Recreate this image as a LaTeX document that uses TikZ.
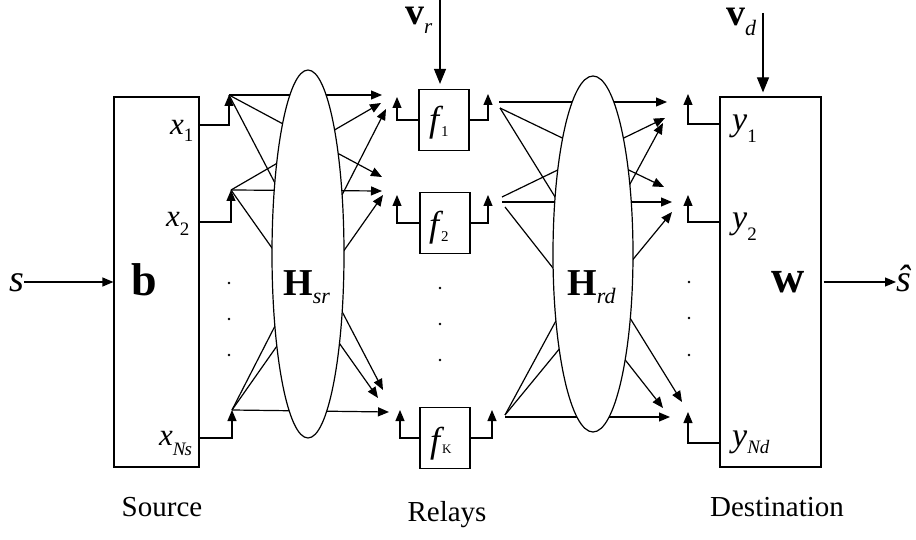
\documentclass[tikz,border=0pt]{standalone}
\usepackage{fontspec}
\setmainfont{Liberation Serif}
\usetikzlibrary{arrows.meta,shapes.geometric}
\newcommand\myfs[1]{\fontsize{#1}{#1}\selectfont}
\begin{document}
\begin{tikzpicture}[x=1pt,y=-1pt,
  arr/.style={line width=1.2pt,-{Triangle[length=11pt,width=9pt]}},
  bigarr/.style={line width=1.2pt,-{Triangle[length=15pt,width=12pt]}},
  blk/.style={draw,line width=1.2pt,rectangle,inner sep=0pt},
  relaybox/.style={blk,minimum width=50pt,minimum height=61pt},
  chan/.style={draw,line width=1.2pt,ellipse,fill=white,inner sep=0pt},
  dotn/.style={circle,fill,inner sep=0pt,minimum size=2.8pt},
  txt/.style={inner sep=0pt,anchor=base west},
  captxt/.style={inner sep=0pt,anchor=base,font=\myfs{29}}
]
\useasboundingbox (0,0) rectangle (916,540);

% boxes
\node[blk,minimum width=85pt,minimum height=370pt] (src) at (156.5,282) {};
\node[blk,minimum width=101pt,minimum height=370pt] (dst) at (770.5,282) {};
\node[relaybox] (rel1) at (444,120) {};
\node[relaybox] (rel2) at (445,223) {};
\node[relaybox] (relK) at (445,438) {};

% level coordinates
\coordinate (ly1) at (0,125);
\coordinate (ly2) at (0,222);
\coordinate (ly3) at (0,438);
\coordinate (ld1) at (0,124);
\coordinate (ld2) at (0,222);
\coordinate (ld3) at (0,443);

% source output tips
\coordinate (st1) at (229,95);
\coordinate (st2) at (231,190);
\coordinate (st3) at (232,410);
% relay input tips
\coordinate (r1in) at (397,97);
\coordinate (r2in) at (397,195);
\coordinate (rKin) at (400,410);
% relay output tips
\coordinate (r1out) at (488,94);
\coordinate (r2out) at (488,195);
\coordinate (rKout) at (492,410);
% destination input tips
\coordinate (d1in) at (688,94);
\coordinate (d2in) at (688,195);
\coordinate (dKin) at (688,412);

% fan targets at relays
\coordinate (R1a) at (382,95);  \coordinate (R1b) at (381,103); \coordinate (R1c) at (386,109);
\coordinate (R2a) at (382,177); \coordinate (R2b) at (382,191); \coordinate (R2c) at (383,195);
\coordinate (RKa) at (383,390); \coordinate (RKb) at (378,398); \coordinate (RKc) at (389,412);
% fan starts at relays
\coordinate (o1h) at (499,102); \coordinate (o1d) at (500,108);
\coordinate (o2u) at (502,197); \coordinate (o2h) at (502,202); \coordinate (o2d) at (505,207);
\coordinate (oK) at (505,415);  \coordinate (oKh) at (505,417);
% fan targets at destination
\coordinate (D1a) at (667,102); \coordinate (D1b) at (665,118); \coordinate (D1c) at (663,123);
\coordinate (D2a) at (664,187); \coordinate (D2b) at (672,202); \coordinate (D2c) at (672,212);
\coordinate (DKa) at (682,402); \coordinate (DKb) at (663,408); \coordinate (DKc) at (670,417);

% source outputs
\draw[arr] (src.east |- ly1) -| (st1);
\draw[arr] (src.east |- ly2) -| (st2);
\draw[arr] (src.east |- ly3) -| (st3);
% relay inputs/outputs
\draw[arr] (rel1.west) -| (r1in);
\draw[arr] (rel2.west) -| (r2in);
\draw[arr] (relK.west) -| (rKin);
\draw[arr] (rel1.east) -| (r1out);
\draw[arr] (rel2.east) -| (r2out);
\draw[arr] (relK.east) -| (rKout);
% destination inputs
\draw[arr] (dst.west |- ld1) -| (d1in);
\draw[arr] (dst.west |- ld2) -| (d2in);
\draw[arr] (dst.west |- ld3) -| (dKin);

% Hsr fan
\draw[arr] (st1) -- (R1a);
\draw[arr] (st1) -- (R2a);
\draw[arr] (st1) -- (RKa);
\draw[arr] (st2) -- (R1b);
\draw[arr] (st2) -- (R2b);
\draw[arr] (st2) -- (RKb);
\draw[arr] (st3) -- (R1c);
\draw[arr] (st3) -- (R2c);
\draw[arr] (st3) -- (RKc);
% Hrd fan
\draw[arr] (o1h) -- (D1a);
\draw[arr] (o1d) -- (D2a);
\draw[arr] (o1d) -- (DKa);
\draw[arr] (o2u) -- (D1b);
\draw[arr] (o2h) -- (D2b);
\draw[arr] (o2d) -- (DKb);
\draw[arr] (oK) -- (D1c);
\draw[arr] (oK) -- (D2c);
\draw[arr] (oKh) -- (DKc);

% channel ellipses
\node[chan,minimum width=72pt,minimum height=368pt] (hsr) at (308,254) {};
\node[chan,minimum width=80pt,minimum height=356pt] (hrd) at (593,254) {};
\node[txt] (hsrl) at (283,295) {\myfs{38}\bfseries H\raisebox{-8pt}{\myfs{22}\mdseries\itshape sr}};
\node[txt] (hrdl) at (567,295) {\myfs{38}\bfseries H\raisebox{-8pt}{\myfs{22}\mdseries\itshape rd}};

% box labels
\node[inner sep=0pt,anchor=base] (blbl) at (144,295) {\myfs{46}\bfseries b};
\node[inner sep=0pt,anchor=base] (wlbl) at (788,293) {\myfs{46}\bfseries w};
\node[txt] (x1) at (170,135) {\myfs{31}\itshape x\raisebox{-7pt}{\myfs{19}\upshape 1}};
\node[txt] (x2) at (166,227) {\myfs{31}\itshape x\raisebox{-9pt}{\myfs{19}\upshape 2}};
\node[txt] (xN) at (159,445) {\myfs{31}\itshape x\raisebox{-10pt}{\myfs{19}N\kern-1pt s}};
\node[txt] (y1) at (732,131) {\myfs{34}\itshape y\raisebox{-12pt}{\myfs{19}\upshape 1}};
\node[txt] (y2) at (732,229) {\myfs{34}\itshape y\raisebox{-12pt}{\myfs{19}\upshape 2}};
\node[txt] (yN) at (732,446) {\myfs{34}\itshape y\raisebox{-7pt}{\myfs{19}Nd}};
\node[txt] (f1) at (429,132) {\myfs{36}\itshape f\kern2pt\raisebox{-5pt}{\myfs{15}\upshape 1}};
\node[txt] (f2) at (429,237) {\myfs{36}\itshape f\kern2pt\raisebox{-5pt}{\myfs{15}\upshape 2}};
\node[txt] (fK) at (430,452) {\myfs{36}\itshape f\kern2pt\raisebox{-1pt}{\myfs{13}\upshape K}};

% noise
\coordinate (vrtop) at (440,0);
\coordinate (vdtop) at (763,13);
\draw[bigarr,shorten >=5pt] (vrtop) -- (vrtop |- rel1.north);
\draw[bigarr,shorten >=4pt] (vdtop) -- (vdtop |- dst.north);
\node[txt] (vr) at (405,25) {\myfs{38}\bfseries v\raisebox{-9pt}{\myfs{21}\mdseries\itshape r}};
\node[txt] (vd) at (726,26) {\myfs{38}\bfseries v\raisebox{-10pt}{\myfs{22}\mdseries\itshape d}};

% input / output
\node[txt] (s) at (9,291) {\myfs{38}\itshape s};
\node[txt] (shat) at (896,291) {\myfs{38}\itshape ŝ};
\draw[arr] (s.east |- src.west) -- (src.west);
\draw[arr] (dst.east) ++(2,0) -- (shat.west |- dst.east);

% dots
\node[dotn] (sd1) at (229,283) {};
\node[dotn] (sd2) at (229,319) {};
\node[dotn] (sd3) at (229,355) {};
\node[dotn] (rd1) at (440,288) {};
\node[dotn] (rd2) at (440,324) {};
\node[dotn] (rd3) at (440,360) {};
\node[dotn] (dd1) at (689,282) {};
\node[dotn] (dd2) at (689,318) {};
\node[dotn] (dd3) at (689,355) {};

% captions
\node[captxt] (csrc) at (162,516) {Source};
\node[captxt] (crel) at (447,521) {Relays};
\node[captxt] (cdst) at (777,516) {Destination};
\end{tikzpicture}
\end{document}
